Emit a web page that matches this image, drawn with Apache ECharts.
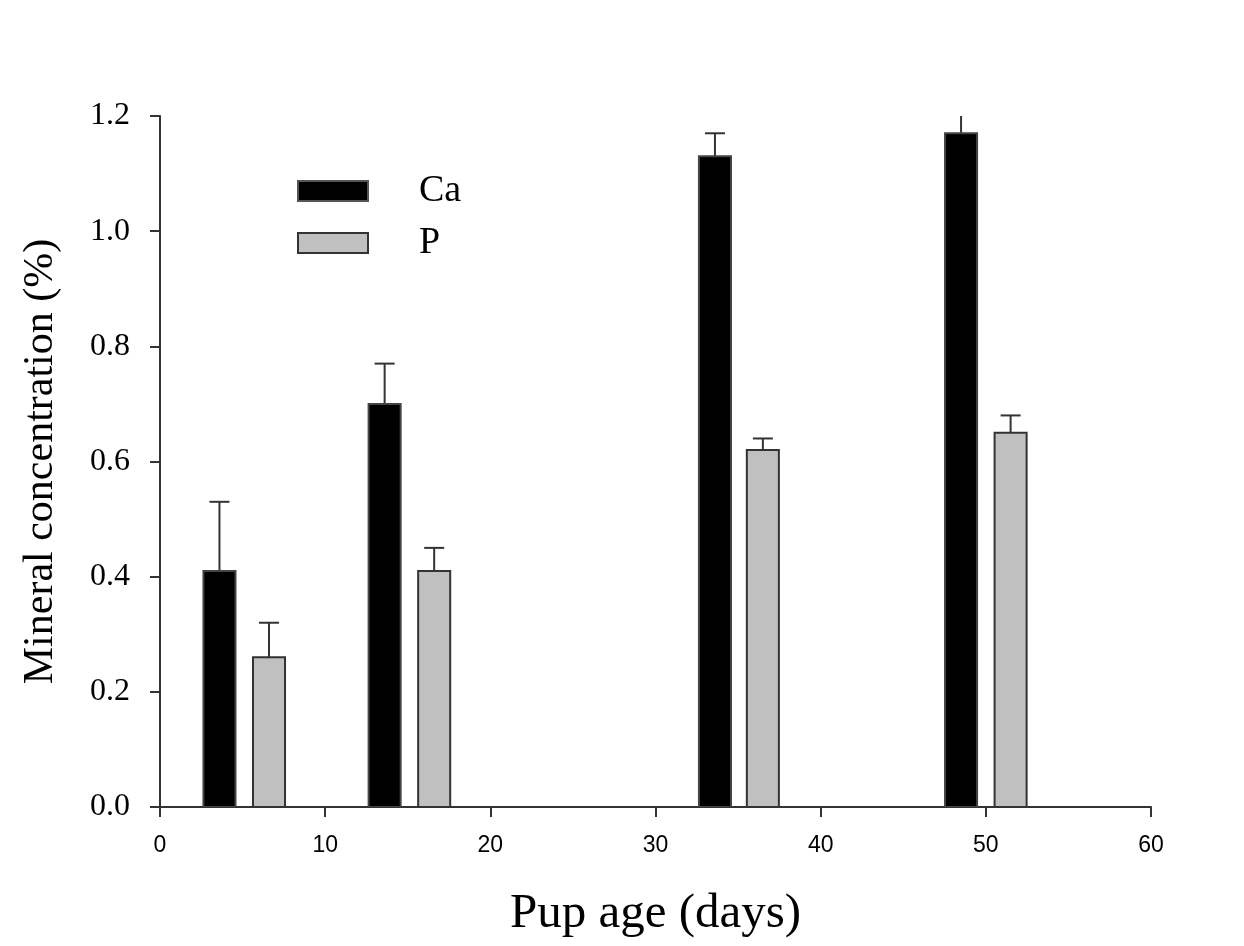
<!DOCTYPE html>
<html>
<head>
<meta charset="utf-8">
<script src="https://cdn.jsdelivr.net/npm/echarts@6/dist/echarts.min.js"></script>
<style>
    html, body { margin: 0; padding: 0; background: #fff; }
    #main { width: 1244px; height: 946px; }
</style>
</head>
<body>
<div id="main"></div>
<script>
// 数据
var caAge = [3.6, 13.6, 33.6, 48.5];
var caValue = [0.41, 0.70, 1.13, 1.17];
var caErr = [0.12, 0.07, 0.04, 0.04];
var pAge = [6.6, 16.6, 36.5, 51.5];
var pValue = [0.26, 0.41, 0.62, 0.65];
var pErr = [0.06, 0.04, 0.02, 0.03];
var xTicks = [0, 10, 20, 30, 40, 50, 60];
var yTicks = [0, 0.2, 0.4, 0.6, 0.8, 1.0, 1.2];

(function () {
    var myChart = echarts.init(document.getElementById("main"));
    var serif = '"Liberation Serif", "Times New Roman", serif';

    // 柱子 + 误差线
    function makeRender(fill, border) {
        return function (params, api) {
            var x = api.value(0), y = api.value(1), e = api.value(2);
            var half = 0.97; // 柱宽一半 (x 单位)
            var p0 = api.coord([x - half, 0]);
            var p1 = api.coord([x + half, y]);
            var top = api.coord([x, y + e]);
            var mid = api.coord([x, y]);
            var cap = 10;
            return {
                type: 'group',
                children: [{
                    type: 'line',
                    shape: { x1: mid[0], y1: mid[1], x2: top[0], y2: top[1] },
                    style: { stroke: '#333', lineWidth: 2 }
                }, {
                    type: 'line',
                    shape: { x1: top[0] - cap, y1: top[1], x2: top[0] + cap, y2: top[1] },
                    style: { stroke: '#333', lineWidth: 2 }
                }, {
                    type: 'rect',
                    shape: { x: p0[0], y: p1[1], width: p1[0] - p0[0], height: p0[1] - p1[1] },
                    style: { fill: fill, stroke: border, lineWidth: 2 }
                }]
            };
        };
    }

    function toData(xs, ys, es) {
        return xs.map(function (x, i) { return [x, ys[i], es[i]]; });
    }

    var option = {
        animation: false,
        grid: { left: 160, right: 93, top: 116, bottom: 139 },
        legend: {
            left: 297,
            top: 172,
            padding: 0,
            orient: 'vertical',
            itemWidth: 70,
            itemHeight: 20,
            itemGap: 14,
            data: [{ name: 'Ca', icon: 'rect' }, { name: 'P', icon: 'rect' }],
            textStyle: { fontFamily: serif, fontSize: 38, color: '#000', padding: [0, 0, 0, 46] }
        },
        xAxis: {
            type: 'value',
            min: xTicks[0],
            max: xTicks[xTicks.length - 1],
            interval: 10,
            name: 'Pup age (days)',
            nameLocation: 'middle',
            nameGap: 83,
            nameTextStyle: { fontFamily: serif, fontSize: 49, color: '#000' },
            splitLine: { show: false },
            axisLine: { lineStyle: { color: '#333', width: 2 } },
            axisTick: { length: 10, lineStyle: { color: '#333', width: 2 } },
            axisLabel: { fontFamily: 'Liberation Sans, Arial, sans-serif', fontSize: 23, color: '#000', margin: 27 }
        },
        yAxis: {
            type: 'value',
            min: yTicks[0],
            max: yTicks[yTicks.length - 1],
            interval: 0.2,
            name: 'Mineral concentration (%)',
            nameLocation: 'middle',
            nameGap: 98,
            nameTextStyle: { fontFamily: serif, fontSize: 42, color: '#000' },
            splitLine: { show: false },
            axisLine: { show: true, lineStyle: { color: '#333', width: 2 } },
            axisTick: { length: 10, lineStyle: { color: '#333', width: 2 } },
            axisLabel: {
                fontFamily: serif, fontSize: 32, color: '#000', margin: 30,
                formatter: function (v) { return v.toFixed(1); }
            }
        },
        series: [{
            name: 'Ca',
            type: 'custom',
            clip: true,
            itemStyle: { color: '#000', borderColor: '#555', borderWidth: 1 },
            renderItem: makeRender('#000', '#444'),
            encode: { x: 0, y: 1 },
            data: toData(caAge, caValue, caErr)
        }, {
            name: 'P',
            type: 'custom',
            clip: true,
            itemStyle: { color: '#c0c0c0', borderColor: '#333', borderWidth: 2 },
            renderItem: makeRender('#c0c0c0', '#333'),
            encode: { x: 0, y: 1 },
            data: toData(pAge, pValue, pErr)
        }]
    };

    myChart.setOption(option);
})();
</script>
</body>
</html>
